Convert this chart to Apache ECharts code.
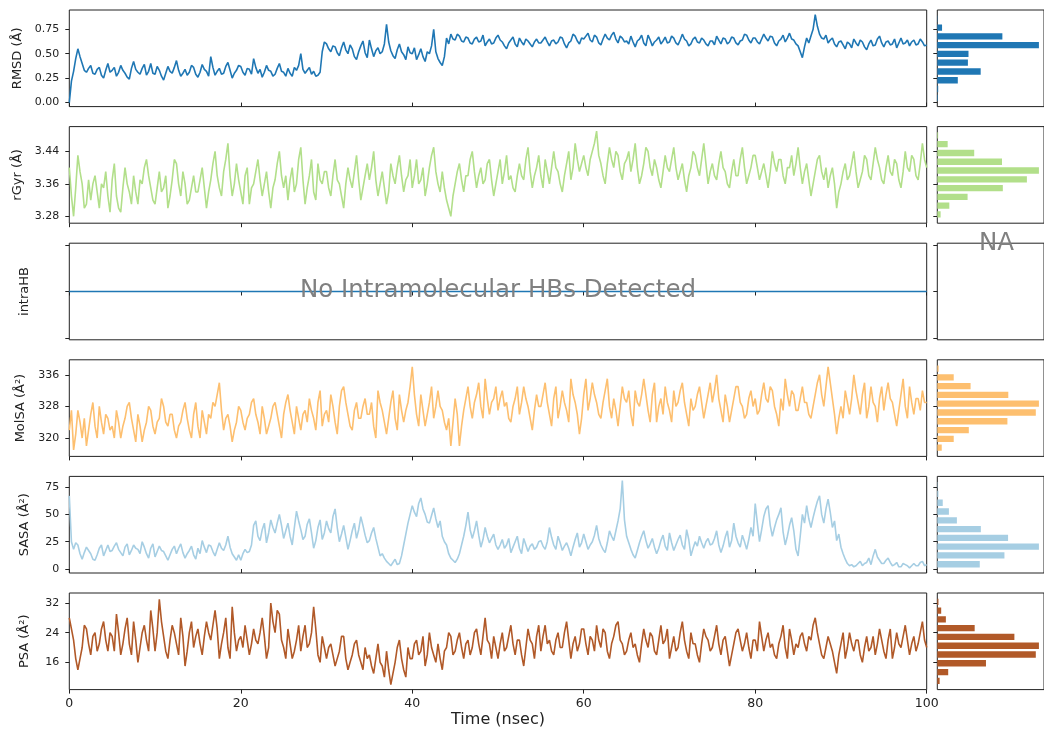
<!DOCTYPE html>
<html>
<head>
<meta charset="utf-8">
<script src="https://cdn.jsdelivr.net/npm/echarts@6/dist/echarts.min.js"></script>
<style>
html,body{margin:0;padding:0;background:#fff;}
#chart{width:1044px;height:736px;}
</style>
</head>
<body>
<div id="chart"></div>
<script>
// ---------------- DATA ----------------
const timeStep = 0.25; // nsec between samples

const rmsd = [
0.00,0.22,0.32,0.45,0.55,0.47,0.40,0.33,0.31,0.35,0.38,0.30,0.29,0.34,0.36,0.28,0.25,0.33,0.40,0.31,
0.33,0.36,0.27,0.31,0.38,0.33,0.30,0.26,0.24,0.35,0.42,0.34,0.31,0.29,0.35,0.39,0.28,0.32,0.40,0.30,
0.29,0.37,0.33,0.27,0.23,0.30,0.37,0.32,0.30,0.36,0.43,0.33,0.27,0.30,0.34,0.28,0.31,0.38,0.36,0.29,
0.26,0.31,0.39,0.34,0.32,0.27,0.47,0.36,0.28,0.32,0.35,0.29,0.30,0.37,0.41,0.33,0.25,0.30,0.33,0.38,
0.37,0.31,0.28,0.35,0.34,0.29,0.45,0.36,0.30,0.34,0.26,0.31,0.38,0.33,0.32,0.27,0.29,0.35,0.40,0.32,
0.31,0.27,0.35,0.30,0.27,0.36,0.33,0.38,0.50,0.34,0.30,0.33,0.36,0.29,0.32,0.27,0.28,0.31,0.52,0.62,
0.60,0.55,0.52,0.58,0.57,0.51,0.48,0.56,0.62,0.54,0.50,0.59,0.55,0.47,0.44,0.52,0.58,0.63,0.51,0.46,
0.64,0.55,0.47,0.53,0.56,0.50,0.52,0.60,0.80,0.62,0.53,0.48,0.45,0.54,0.60,0.52,0.49,0.44,0.57,0.51,
0.50,0.56,0.44,0.49,0.55,0.47,0.42,0.52,0.50,0.58,0.75,0.52,0.45,0.41,0.38,0.47,0.66,0.60,0.70,0.65,
0.64,0.70,0.68,0.63,0.62,0.67,0.66,0.61,0.60,0.65,0.67,0.62,0.63,0.69,0.58,0.62,0.65,0.60,0.61,0.66,
0.69,0.64,0.62,0.58,0.55,0.61,0.64,0.67,0.60,0.57,0.66,0.62,0.59,0.65,0.63,0.60,0.57,0.62,0.65,0.61,
0.61,0.64,0.67,0.62,0.58,0.63,0.64,0.60,0.62,0.67,0.66,0.60,0.56,0.61,0.63,0.70,0.68,0.63,0.60,0.66,
0.65,0.68,0.71,0.64,0.62,0.69,0.67,0.61,0.59,0.65,0.70,0.66,0.64,0.69,0.72,0.65,0.61,0.68,0.66,0.62,
0.63,0.60,0.68,0.62,0.57,0.63,0.65,0.69,0.61,0.58,0.69,0.64,0.58,0.62,0.64,0.67,0.60,0.63,0.67,0.61,
0.62,0.68,0.66,0.61,0.59,0.64,0.70,0.65,0.63,0.58,0.60,0.65,0.67,0.62,0.61,0.66,0.64,0.60,0.58,0.63,
0.63,0.59,0.68,0.64,0.60,0.66,0.65,0.60,0.62,0.67,0.66,0.61,0.59,0.63,0.64,0.70,0.69,0.64,0.61,0.66,
0.66,0.62,0.60,0.65,0.70,0.66,0.63,0.68,0.67,0.61,0.58,0.63,0.65,0.69,0.62,0.66,0.71,0.65,0.64,0.60,
0.58,0.52,0.46,0.57,0.66,0.61,0.68,0.75,0.90,0.78,0.70,0.66,0.65,0.69,0.61,0.64,0.66,0.60,0.57,0.62,
0.63,0.59,0.55,0.62,0.60,0.56,0.65,0.61,0.58,0.64,0.62,0.57,0.54,0.60,0.64,0.58,0.59,0.65,0.68,0.61,
0.57,0.62,0.63,0.59,0.60,0.65,0.56,0.61,0.66,0.60,0.61,0.64,0.58,0.62,0.64,0.59,0.60,0.65,0.62,0.58,
0.59];

const rgyr = [
3.40,3.33,3.28,3.35,3.43,3.39,3.36,3.30,3.31,3.37,3.32,3.36,3.38,3.34,3.30,3.36,3.35,3.39,3.33,3.29,
3.37,3.41,3.33,3.30,3.29,3.35,3.40,3.36,3.34,3.31,3.38,3.34,3.31,3.37,3.36,3.40,3.42,3.38,3.35,3.32,
3.31,3.35,3.39,3.34,3.35,3.38,3.30,3.33,3.37,3.42,3.41,3.36,3.33,3.39,3.36,3.31,3.32,3.35,3.38,3.34,
3.34,3.37,3.40,3.35,3.30,3.34,3.37,3.41,3.44,3.38,3.35,3.33,3.39,3.42,3.46,3.38,3.33,3.36,3.41,3.37,
3.34,3.31,3.38,3.40,3.31,3.35,3.36,3.39,3.42,3.37,3.33,3.36,3.39,3.34,3.30,3.35,3.37,3.41,3.44,3.38,
3.35,3.38,3.32,3.37,3.40,3.34,3.36,3.42,3.45,3.37,3.31,3.35,3.38,3.42,3.34,3.32,3.41,3.37,3.36,3.39,
3.39,3.35,3.33,3.38,3.42,3.37,3.36,3.33,3.30,3.36,3.40,3.37,3.35,3.39,3.43,3.37,3.32,3.35,3.38,3.41,
3.37,3.40,3.44,3.37,3.33,3.36,3.39,3.35,3.31,3.34,3.41,3.38,3.36,3.40,3.43,3.38,3.34,3.37,3.38,3.42,
3.35,3.38,3.42,3.36,3.37,3.40,3.33,3.36,3.40,3.43,3.45,3.39,3.36,3.34,3.39,3.35,3.32,3.30,3.28,3.33,
3.36,3.39,3.41,3.37,3.34,3.38,3.38,3.42,3.44,3.39,3.35,3.38,3.40,3.36,3.37,3.41,3.42,3.37,3.33,3.36,
3.39,3.42,3.36,3.39,3.43,3.37,3.38,3.35,3.34,3.38,3.41,3.38,3.37,3.42,3.45,3.39,3.35,3.38,3.40,3.43,
3.38,3.35,3.42,3.39,3.36,3.40,3.44,3.40,3.39,3.36,3.34,3.38,3.41,3.44,3.37,3.40,3.46,3.42,3.39,3.41,
3.43,3.40,3.38,3.42,3.44,3.46,3.49,3.43,3.41,3.38,3.36,3.41,3.45,3.42,3.40,3.44,3.43,3.39,3.37,3.41,
3.42,3.44,3.39,3.42,3.46,3.40,3.36,3.38,3.41,3.45,3.44,3.40,3.38,3.42,3.40,3.37,3.35,3.39,3.43,3.40,
3.39,3.42,3.45,3.40,3.37,3.39,3.41,3.37,3.34,3.38,3.40,3.44,3.43,3.40,3.38,3.42,3.46,3.41,3.36,3.39,
3.41,3.38,3.37,3.41,3.44,3.40,3.39,3.36,3.35,3.39,3.42,3.38,3.38,3.42,3.45,3.40,3.36,3.38,3.40,3.43,
3.43,3.40,3.37,3.39,3.41,3.38,3.35,3.39,3.44,3.41,3.39,3.42,3.42,3.38,3.36,3.40,3.40,3.43,3.38,3.41,
3.45,3.40,3.36,3.39,3.41,3.37,3.33,3.36,3.39,3.42,3.43,3.39,3.37,3.40,3.35,3.38,3.40,3.36,3.30,3.34,
3.36,3.39,3.41,3.37,3.38,3.41,3.44,3.39,3.35,3.37,3.39,3.43,3.42,3.38,3.37,3.41,3.45,3.42,3.40,3.37,
3.36,3.40,3.43,3.39,3.38,3.42,3.41,3.37,3.35,3.39,3.44,3.40,3.39,3.43,3.42,3.38,3.37,3.41,3.46,3.42,
3.40];

const intraHBTimes = [0, 100];
const intraHB = [0, 0];

const molsa = [
322,327,317,321,327,324,320,325,318,322,326,329,323,320,328,324,321,326,325,322,
323,320,327,324,320,323,325,328,329,325,322,319,326,323,319,322,324,328,327,323,
321,324,325,330,328,324,323,326,326,322,320,323,324,327,329,325,322,320,326,329,
323,320,327,324,321,326,325,329,328,331,334,327,322,325,326,323,319,322,324,328,
327,324,322,325,326,329,330,326,324,321,328,325,321,323,325,328,329,326,323,320,
326,329,331,327,324,321,328,325,322,326,327,324,330,327,325,322,329,332,323,326,
327,324,331,328,324,321,328,332,333,329,326,323,322,327,329,325,325,328,330,326,
326,329,323,320,332,329,327,324,321,325,329,332,325,322,331,327,324,327,329,333,
338,331,326,323,331,327,323,326,329,333,325,328,332,328,327,324,322,325,318,324,
330,326,318,323,327,330,333,328,325,329,331,334,328,325,335,330,326,329,330,333,
327,330,332,328,329,325,324,328,330,333,326,329,333,330,328,325,322,327,331,328,
328,331,334,329,326,323,330,333,325,328,332,329,327,324,335,331,329,326,321,325,
331,335,327,330,334,331,329,326,325,329,332,335,328,325,330,327,323,328,333,330,
329,332,326,323,332,329,328,331,335,331,327,324,331,334,324,328,330,326,333,329,
327,324,332,328,329,332,334,329,326,323,330,327,328,331,333,329,325,328,331,334,
329,332,336,330,327,324,331,328,324,327,330,333,333,329,328,325,326,330,332,328,
330,326,327,331,334,330,329,333,332,328,326,323,330,327,335,331,328,332,331,327,
327,330,333,329,329,326,325,328,331,334,336,331,328,333,338,334,330,326,321,325,
328,325,332,329,326,330,336,332,329,326,331,334,325,328,333,329,328,324,330,333,
327,331,334,330,329,326,323,327,331,335,328,325,333,329,326,330,330,327,332,329,
329];

const sasa = [
67,25,18,24,22,14,9,15,20,17,14,9,8,13,19,22,12,17,22,16,
17,21,24,18,15,12,20,23,13,17,22,19,18,14,25,20,14,10,19,23,
11,16,21,17,16,12,8,13,18,21,14,19,23,15,10,14,17,21,13,9,
19,14,26,20,15,22,21,16,12,18,24,19,17,22,30,20,14,11,8,13,
8,14,18,15,16,22,40,44,30,26,36,42,24,33,45,38,33,42,50,40,
28,35,42,30,22,38,53,44,36,27,30,41,46,33,19,26,38,45,27,33,
44,37,33,48,55,38,25,32,40,29,18,26,35,42,28,36,48,40,31,24,
26,33,38,28,20,12,14,10,7,5,3,6,9,4,5,12,22,32,42,50,
58,52,48,60,65,55,50,43,42,49,56,46,38,44,30,25,22,14,10,8,
6,9,14,22,30,40,52,36,28,35,44,31,20,27,38,30,24,28,32,22,
18,22,27,19,22,28,15,20,25,30,19,14,28,22,16,21,23,18,20,25,
26,21,18,25,38,29,22,18,30,24,17,21,24,19,12,20,27,33,20,24,
32,25,18,22,25,31,40,28,22,18,15,24,35,30,26,35,44,55,81,45,
30,24,18,13,10,17,24,30,35,26,19,23,28,20,14,19,26,31,21,17,
33,24,17,22,27,31,22,18,36,27,12,19,25,21,30,24,19,25,28,22,
23,28,35,22,15,21,29,35,20,26,42,30,24,20,31,25,18,27,38,30,
60,42,25,36,48,55,58,40,30,38,45,50,56,34,22,30,40,47,35,18,
12,30,50,42,58,46,38,47,55,62,67,50,42,55,64,52,38,44,26,32,
20,14,9,5,3,4,2,3,5,7,3,5,6,10,4,12,18,11,8,5,
5,8,10,6,3,4,6,2,2,5,4,3,1,3,5,3,3,6,7,3,
4];

const psa = [
28,25,22,17,14,17,20,26,25,21,18,23,24,19,21,25,27,22,19,24,
23,19,29,24,18,21,25,28,21,18,27,22,16,20,24,26,22,19,30,25,
19,24,33,27,23,19,17,22,26,24,21,18,28,23,15,19,24,27,20,23,
25,21,18,23,27,24,22,26,30,25,17,21,24,28,20,17,31,24,19,22,
23,20,26,22,18,21,25,22,21,24,28,23,17,20,32,27,24,30,29,22,
20,17,25,21,17,19,22,26,19,23,26,20,21,24,31,25,18,16,23,20,
17,20,21,18,15,17,19,23,23,17,14,16,18,21,22,18,16,14,20,17,
18,15,13,17,21,16,15,12,19,14,10,13,16,20,22,17,14,12,20,17,
17,21,22,18,19,23,15,18,24,20,18,16,21,17,14,19,20,24,23,18,
19,22,24,20,17,21,22,18,20,24,25,21,18,23,28,22,21,17,23,20,
17,21,24,19,20,23,26,21,18,22,22,18,15,20,25,22,21,17,23,26,
19,23,26,21,22,19,18,22,24,20,20,24,27,22,17,21,23,19,21,25,
25,21,18,23,22,19,26,22,20,25,24,19,17,21,23,26,27,22,21,18,
19,22,24,20,21,18,16,21,25,22,20,24,23,19,18,22,26,21,22,25,
17,20,23,19,20,24,27,22,19,17,24,21,21,18,16,21,25,23,22,19,
20,23,26,21,18,22,23,19,15,18,21,24,25,22,19,21,24,20,17,22,
22,19,27,23,19,22,24,20,21,18,17,21,23,26,20,17,25,22,18,21,
20,23,24,21,19,23,22,26,28,24,21,18,17,20,23,21,19,16,13,18,
21,24,17,20,24,21,19,22,22,18,16,20,23,19,20,23,18,21,25,22,
19,17,22,25,17,20,24,21,20,23,26,22,18,21,23,19,21,24,27,22,
20];

// histogram ranges (bin edges span) and counts, lowest bin first
const rmsdHistRange = [0.004, 0.902];
const rmsdHistCounts = [2, 3, 69, 146, 103, 105, 342, 219, 16, 1];
const rgyrHistRange = [3.274, 3.490];
const rgyrHistCounts = [8, 29, 73, 158, 216, 245, 156, 89, 25, 2];
const molsaHistRange = [316.46, 338.69];
const molsaHistCounts = [10, 37, 71, 158, 222, 229, 160, 75, 37, 3];
const sasaHistRange = [0.36, 80.8];
const sasaHistCounts = [117, 185, 280, 195, 120, 54, 32, 15, 3, 1];
const psaHistRange = [9.82, 33.5];
const psaHistCounts = [6, 28, 125, 253, 261, 198, 96, 22, 10, 3];

// axis ticks
const xTicks = [0, 20, 40, 60, 80, 100];
const rmsdTicks = [0, 0.25, 0.5, 0.75];
const rgyrTicks = [3.28, 3.36, 3.44];
const intraHBTicks = [-1, 0, 1];
const molsaTicks = [320, 328, 336];
const sasaTicks = [0, 25, 50, 75];
const psaTicks = [16, 24, 32];

// ---------------- CHART ----------------
const FONT = 'DejaVu Sans';
const INK = '#222';

const panels = [
  {name:'RMSD (Å)', vals:rmsd, color:'#1f77b4', yr:[-0.041,0.947], ticks:rmsdTicks, fmt:v=>v.toFixed(2), hr:rmsdHistRange, hc:rmsdHistCounts},
  {name:'rGyr (Å)', vals:rgyr, color:'#b2df8a', yr:[3.263,3.501], ticks:rgyrTicks, fmt:v=>v.toFixed(2), hr:rgyrHistRange, hc:rgyrHistCounts},
  {name:'intraHB', vals:null, color:'#1f77b4', yr:[-1.036,1.036], ticks:intraHBTicks, fmt:null, hr:null, hc:null},
  {name:'MolSA (Å²)', vals:molsa, color:'#fdbf6f', yr:[315.35,339.8], ticks:molsaTicks, fmt:v=>String(v), hr:molsaHistRange, hc:molsaHistCounts},
  {name:'SASA (Å²)', vals:sasa, color:'#a6cee3', yr:[-3.66,84.8], ticks:sasaTicks, fmt:v=>String(v), hr:sasaHistRange, hc:sasaHistCounts},
  {name:'PSA (Å²)', vals:psa, color:'#b15928', yr:[8.64,34.7], ticks:psaTicks, fmt:v=>String(v), hr:psaHistRange, hc:psaHistCounts}
];

const tops = [10, 126.6, 243.2, 359.8, 476.4, 593];
const H = 96.6;
const grid = [], xAxis = [], yAxis = [], series = [];

panels.forEach((p, i) => {
  const last = i === panels.length - 1;
  grid.push({left:69.3, top:tops[i], width:857.4, height:H, show:true, borderColor:INK, borderWidth:1, backgroundColor:'transparent'});
  grid.push({left:937.3, top:tops[i], width:118.4, height:H, show:true, borderColor:INK, borderWidth:1, backgroundColor:'transparent'});
  const gm = 2*i, gh = 2*i+1;

  xAxis.push({
    type:'value', gridIndex:gm, min:0, max:100, interval:20,
    axisLine:{show:false},
    axisTick:{show:true, inside:false, length:4, lineStyle:{color:INK, width:1}},
    axisLabel:{show:last, fontFamily:FONT, fontSize:12.5, color:INK, margin:8},
    splitLine:{show:false},
    name: last ? 'Time (nsec)' : '', nameLocation:'middle', nameGap:21,
    nameTextStyle:{fontFamily:FONT, fontSize:16, color:INK}
  });
  let hmax = 1;
  if (p.hc) hmax = Math.max.apply(null, p.hc) * 1.05;
  xAxis.push({
    type:'value', gridIndex:gh, min:0, max:hmax,
    axisLine:{show:false}, axisTick:{show:false}, axisLabel:{show:false}, splitLine:{show:false}
  });

  yAxis.push({
    type:'value', gridIndex:gm, min:p.yr[0], max:p.yr[1],
    axisLine:{show:false},
    axisTick:{show:true, inside:false, length:4, customValues:p.ticks, lineStyle:{color:INK, width:1}},
    axisLabel:{show:!!p.fmt, customValues:p.ticks, formatter:p.fmt || (()=>''), fontFamily:FONT, fontSize:11, color:INK, margin:10},
    splitLine:{show:false},
    name:p.name, nameLocation:'middle', nameGap:38, nameRotate:90,
    nameTextStyle:{fontFamily:FONT, fontSize:13, color:INK}
  });
  yAxis.push({
    type:'value', gridIndex:gh, min:p.yr[0], max:p.yr[1],
    axisLine:{show:false},
    axisTick:{show:true, inside:false, length:4, customValues:p.ticks, lineStyle:{color:INK, width:1}},
    axisLabel:{show:false}, splitLine:{show:false}
  });

  // line series
  let lineData;
  if (p.vals) lineData = p.vals.map((v, k) => [k * timeStep, v]);
  else lineData = intraHBTimes.map((t, k) => [t, intraHB[k]]);
  series.push({
    type:'line', xAxisIndex:gm, yAxisIndex:gm, data:lineData,
    showSymbol:false, symbol:'none', sampling:null, animation:false,
    lineStyle:{color:p.color, width:1.6}, clip:true, z:2
  });

  // histogram series
  if (p.hc) {
    const n = p.hc.length;
    const w = (p.hr[1] - p.hr[0]) / n;
    const hdata = p.hc.map((c, k) => [p.hr[0] + k*w, p.hr[0] + (k+1)*w, c]);
    const color = p.color;
    series.push({
      type:'custom', xAxisIndex:gh, yAxisIndex:gh, data:hdata, animation:false, clip:true,
      encode:{x:2, y:[0,1]},
      renderItem:function(params, api){
        const lo = api.value(0), hi = api.value(1), c = api.value(2);
        const pad = (hi - lo) * 0.14;
        const a = api.coord([0, hi - pad]);
        const b = api.coord([c, lo + pad]);
        return {type:'rect', shape:{x:a[0], y:a[1], width:b[0]-a[0], height:b[1]-a[1]}, style:{fill:color}};
      }
    });
  }
});

const option = {
  backgroundColor:'#fff',
  animation:false,
  grid, xAxis, yAxis, series,
  graphic:[
    {type:'text', silent:true, x:498, y:290.5,
     style:{text:'No Intramolecular HBs Detected', font:'24.5px "DejaVu Sans"', fill:'#808080', align:'center', verticalAlign:'middle'}, z:10},
    {type:'text', silent:true, x:996.5, y:244,
     style:{text:'NA', font:'24.5px "DejaVu Sans"', fill:'#808080', align:'center', verticalAlign:'middle'}, z:10}
  ]
};

const chart = echarts.init(document.getElementById('chart'), null, {renderer:'canvas'});
chart.setOption(option);
</script>
</body>
</html>
